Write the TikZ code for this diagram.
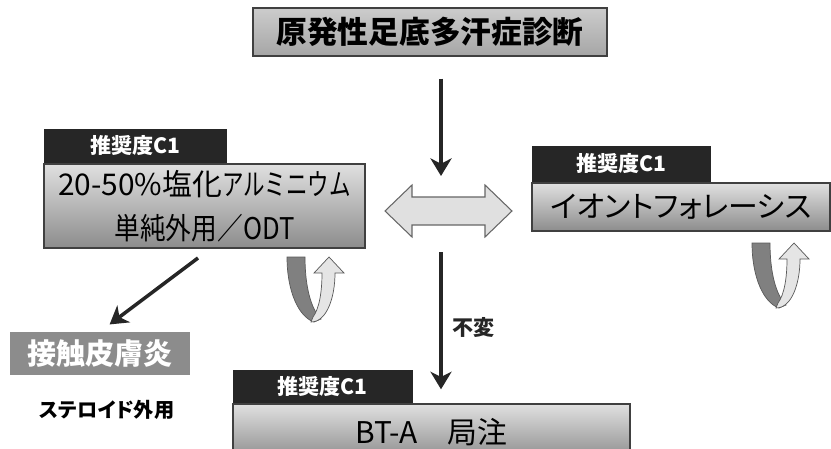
\documentclass[tikz,border=0pt]{standalone}
\usepackage{fontspec}
\setmainfont{Noto Sans CJK JP}[RawFeature=+palt]
\newfontfamily\narrowjp{Noto Sans CJK JP}[FakeStretch=0.72]
\newfontfamily\slimjp{Noto Sans CJK JP}[FakeStretch=0.86]
\usetikzlibrary{
  arrows.meta,
  calc,
  positioning,
}
\tikzset{
  >={Stealth[length=10pt, width=12pt, inset=3pt]},
}

\begin{document}
\begin{tikzpicture}[x=0.02cm, y=-0.02cm,
    box/.style={draw=black!75, line width=0.8pt, top color=black!12, bottom color=black!45, inner sep=0pt},
    tag/.style={fill=black!85, text=white, font=\fontsize{12}{14}\selectfont\bfseries, minimum width=3.6cm, minimum height=0.68cm, inner sep=0pt, anchor=south west},
    arr/.style={->, line width=2pt, black!85},
    darkband/.style={fill=black!50, draw=black!65, line width=0.4pt},
    lightband/.style={fill=black!10, draw=black!65, line width=0.4pt}]
      \useasboundingbox (0,0) rectangle (831,449);
      \node [box, top color=black!20, bottom color=black!35, minimum width=7.08cm, minimum height=0.96cm, font=\fontsize{17.5}{20}\selectfont\bfseries] (diag) at (430,32) {原発性足底多汗症診断};
      \node [box, minimum width=6.42cm, minimum height=1.68cm, align=center, font=\fontsize{17}{25}\selectfont] (alum) at (204.5,206) {20-50\%塩化{\narrowjp アルミニウム}\\{\slimjp 単純外用／ODT}};
      \node [tag, minimum width=3.66cm] (tagl) at (alum.north west) {推奨度C1};
      \node [box, minimum width=5.96cm, minimum height=0.96cm, font=\fontsize{17}{20}\selectfont] (ionto) at (681,207) {イオントフォレーシス};
      \node [tag, minimum width=3.58cm, minimum height=0.72cm] (tagr) at (ionto.north west) {推奨度C1};
      \node [box, minimum width=7.94cm, minimum height=1.12cm, font=\fontsize{17}{20}\selectfont] (bta) at (431.5,432) {BT-A\quad 局注};
      \node [tag, minimum height=0.66cm] (tagb) at (bta.north west) {推奨度C1};
      \node [fill=black!45, text=white, minimum width=3.6cm, minimum height=0.86cm, inner sep=0pt, font=\fontsize{16.5}{20}\selectfont\bfseries] (derm) at (100,353.5) {接触皮膚炎};
      \node [font=\fontsize{11.5}{13}\selectfont\bfseries] (ster) at (107,410) {ステロイド外用};
      \coordinate (hub) at (441,176);
      \coordinate (split) at (441,252);
      \coordinate (fork) at (198,258);
      \draw [arr, shorten <=0.44cm] (diag.south -| hub) -- (hub);
      \draw [arr, shorten >=0.28cm] (split) -- (split |- bta.north) node [midway, right=2pt, font=\fontsize{12}{14}\selectfont\bfseries] {不変};
      \draw [arr, shorten >=0.24cm] (fork) -- (derm.north);
      % double arrow between the two therapies
      \draw [fill=black!12, draw=black!60, line width=0.6pt]
        (385,211) -- (412,185) -- (412,197) -- (485,197) -- (485,185) -- (512,211)
        -- (485,237) -- (485,225) -- (412,225) -- (412,237) -- cycle;
      % repeat arrows
      \foreach \ux/\uy in {287/257, 752/243} {
        \begin{scope}[shift={(\ux,\uy)}]
          \draw [darkband] (0,0) -- (18,0) .. controls (18,30) and (24,52) .. (34,62)
            -- (27,65) .. controls (12,60) and (0,35) .. cycle;
          \draw [lightband] (24,65) .. controls (40,65) and (48,40) .. (48,16) -- (57,16)
            -- (42,0) -- (27,16) -- (35,16) .. controls (35,36) and (32,52) .. (26,60) -- cycle;
        \end{scope}
      }
    \end{tikzpicture}
\end{document}
